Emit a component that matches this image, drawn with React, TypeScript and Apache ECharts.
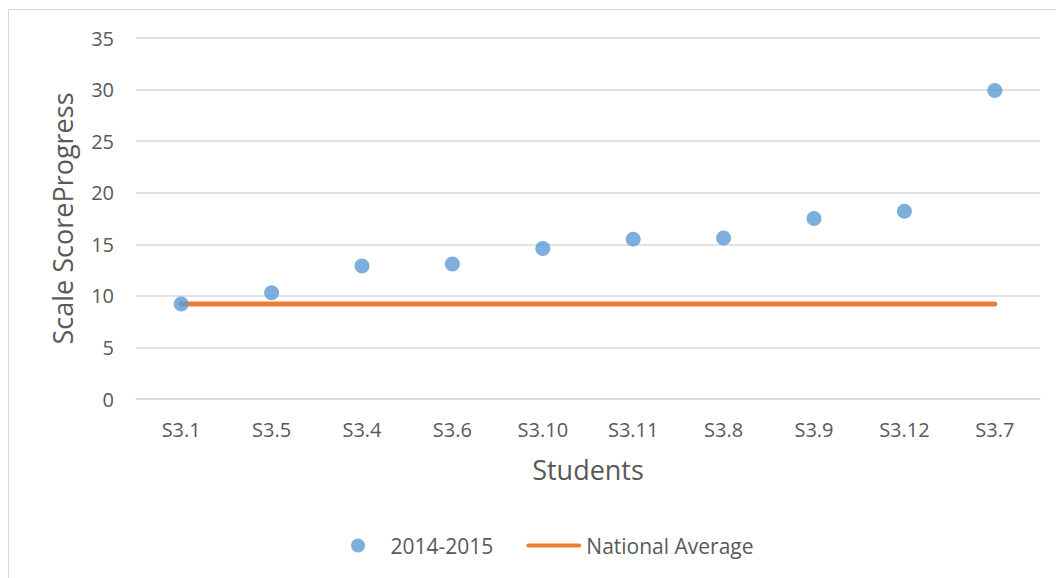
import React, { useEffect, useRef } from "react";
import * as echarts from "echarts";

const categories = ["S3.1", "S3.5", "S3.4", "S3.6", "S3.10", "S3.11", "S3.8", "S3.9", "S3.12", "S3.7"];
const scores = [9.2, 10.3, 12.9, 13.1, 14.6, 15.5, 15.6, 17.5, 18.2, 29.9];
const nationalAverage = [9.2, 9.2, 9.2, 9.2, 9.2, 9.2, 9.2, 9.2, 9.2, 9.2];
const seriesNames = ["2014-2015", "National Average"];

const FONT = "Open Sans";
const TXT = "#595959";

export default function App() {
  const ref = useRef<HTMLDivElement>(null);
  useEffect(() => {
    if (!ref.current) return;
    const chart = echarts.init(ref.current, undefined, { renderer: "svg" });
    chart.setOption({
      animation: false,
      backgroundColor: "#ffffff",
      textStyle: { fontFamily: FONT },
      graphic: [
        { type: "line", shape: { x1: 8.5, y1: 9.5, x2: 1056, y2: 9.5 }, style: { stroke: "#d9d9d9", lineWidth: 1 } },
        { type: "line", shape: { x1: 8.5, y1: 9.5, x2: 8.5, y2: 578 }, style: { stroke: "#d9d9d9", lineWidth: 1 } },
      ],
      grid: { left: 136, right: 16, top: 38, bottom: 179, containLabel: false },
      legend: {
        bottom: 17,
        left: 346,
        itemWidth: 55,
        itemHeight: 14,
        itemGap: 33,
        textStyle: { color: TXT, fontSize: 21, fontFamily: FONT },
        data: [
          { name: seriesNames[0], icon: "circle" },
          { name: seriesNames[1], icon: "path://M2,0L53,0A2,2 0 0 1 53,4L2,4A2,2 0 0 1 2,0Z" },
        ],
      },
      xAxis: {
        type: "category",
        data: categories,
        boundaryGap: true,
        name: "Students",
        nameLocation: "middle",
        nameGap: 57,
        nameTextStyle: { color: TXT, fontSize: 27, fontFamily: FONT },
        axisLine: { show: true, lineStyle: { color: "#d9d9d9", width: 1.5 } },
        axisTick: { show: false },
        axisLabel: { color: TXT, fontSize: 20, margin: 20, fontFamily: FONT },
      },
      yAxis: {
        type: "value",
        min: 0,
        max: 35,
        interval: 5,
        name: "Scale ScoreProgress",
        nameLocation: "middle",
        nameGap: 60,
        nameRotate: 90,
        nameTextStyle: { color: TXT, fontSize: 27, fontFamily: FONT },
        axisLine: { show: false },
        axisTick: { show: false },
        axisLabel: { color: TXT, fontSize: 20, margin: 22, fontFamily: FONT },
        splitLine: { lineStyle: { color: "#d9d9d9", width: 1.5 } },
      },
      series: [
        {
          name: seriesNames[0],
          type: "scatter",
          data: scores,
          symbol: "circle",
          symbolSize: 15,
          itemStyle: { color: "#5B9BD5" },
          z: 3,
        },
        {
          name: seriesNames[1],
          type: "line",
          data: nationalAverage,
          symbol: "none",
          showSymbol: false,
          itemStyle: { color: "#ED7D31" },
          lineStyle: { color: "#ED7D31", width: 5, cap: "round" },
          z: 2,
        },
      ],
    });
    return () => chart.dispose();
  }, []);
  return (
    <div
      ref={ref}
      style={{ position: "fixed", left: 0, top: 0, width: 1056, height: 578 }}
    />
  );
}
